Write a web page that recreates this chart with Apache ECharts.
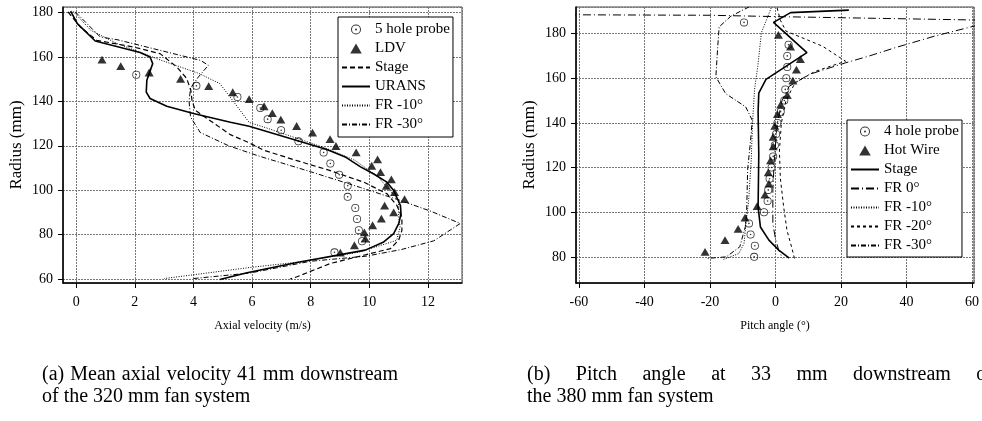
<!DOCTYPE html>
<html>
<head>
<meta charset="utf-8">
<script src="https://cdn.jsdelivr.net/npm/echarts@6/dist/echarts.min.js"></script>
<style>
html, body { margin: 0; padding: 0; background: #fff; }
#main { width: 982px; height: 421px; }
</style>
</head>
<body>
<div id="main"></div>
<script>
// (a) axial velocity, 320 mm fan  -- [velocity m/s, radius mm]
var probe5 = [[2.05,152],[4.1,147],[5.5,142],[6.28,137],[6.53,132],[6.99,127],[7.58,122],[8.44,117],[8.67,112],[8.97,107],[9.26,102],[9.26,97],[9.52,92],[9.58,87],[9.64,82],[9.75,77],[8.81,72]];
var ldv = [[0.88,158.8],[1.52,155.9],[2.49,153],[3.56,150.1],[4.52,146.9],[5.34,144.1],[5.9,141],[6.41,137.8],[6.69,134.7],[6.98,131.8],[7.52,128.9],[8.06,125.9],[8.66,123],[8.86,119.9],[9.55,117],[10.28,113.9],[10.08,111],[10.38,108.1],[10.75,104.9],[10.58,101.9],[10.86,99.1],[11.2,96],[10.52,93],[10.83,90],[10.41,87.2],[10.11,84.2],[9.83,81],[9.86,78.2],[9.49,75.2],[9.01,71.9]];
var stageA = [[-0.28,180.3],[0.14,173.5],[0.7,167.5],[1.95,164.5],[2.86,161.5],[3.43,155.5],[3.77,150.3],[3.91,145],[3.95,140.5],[4.06,136],[4.46,132.3],[5.26,125],[5.87,121.5],[6.4,118],[7.53,113.3],[8.67,108.8],[9.81,103.6],[10.6,98.4],[10.94,93.1],[11.11,87.9],[11.11,81.9],[11.0,77.5],[10.72,73.7],[9.81,70.7],[8.67,67],[7.53,61],[7.3,60]];
var urans = [[-0.19,180.6],[0.04,175],[0.65,167.2],[2.18,162],[2.52,160],[2.61,157],[2.41,149.5],[2.39,144.2],[2.52,141.3],[3.09,137.8],[4.0,134.5],[5.26,130.6],[5.9,128.8],[7.53,122.4],[8.55,118.3],[9.2,114.8],[9.7,110.5],[10.15,107.3],[10.6,103.6],[10.83,99.9],[11.06,93.1],[11.08,89.4],[11.0,84.9],[10.83,80.4],[10.49,76.7],[9.86,73],[7.53,67.4],[5.83,62.8],[4.9,59.8]];
var fr10A = [[-0.1,180.5],[0.5,172],[1.4,166],[2.9,158.5],[4.2,152.5],[4.9,148],[5.36,140],[5.9,130.5],[6.5,128],[7.5,123.5],[8.5,119],[9.5,113.5],[10.3,106],[10.6,101.3],[11.0,95.4],[11.0,88],[11.05,83.4],[10.93,77.4],[9.68,72.2],[7.64,67.7],[5.93,65.2],[3,60.2]];
var fr30A = [[-0.03,180.3],[0.82,169],[1.39,167.8],[4.23,158.5],[4.51,156.3],[4.17,151],[3.9,146],[3.85,140],[3.9,133],[4.23,126],[5.2,120],[6.2,115.5],[8.0,108.3],[9.7,101.2],[11.1,95.2],[12.1,90.5],[13.1,85],[12.2,77.2],[11.1,73.3],[9.9,70.3],[8,68],[5.93,62.7],[4,60.2]];

// (b) pitch angle, 380 mm fan -- [angle deg, radius mm]
var probe4 = [[-9.6,185],[4.0,175],[3.6,170],[3.6,165],[3.3,160],[3.0,155],[2.7,150],[1.6,145],[0.6,140],[0.2,135],[-0.2,130],[-0.7,125],[-1.2,120],[-1.8,115],[-2.2,110],[-2.4,105],[-3.5,100],[-8.1,95],[-7.6,90],[-6.3,85],[-6.5,80]];
var hotWire = [[0.9,179.4],[4.6,174.2],[7.6,168.6],[6.4,163.9],[5.3,158.9],[3.6,152.5],[1.6,148.2],[0.6,143.9],[-0.2,138.7],[-0.7,133.8],[-0.7,129.5],[-1.5,123.2],[-2.2,117.8],[-2.0,112.8],[-3.2,107.9],[-5.6,102.7],[-9.3,97.6],[-11.4,92.5],[-15.4,87.5],[-21.5,82.2]];
var stageB = [[22.4,190.5],[4.6,189.4],[-0.6,185],[9.6,171.5],[-2.9,159.5],[-5.1,153.3],[-5.3,145],[-5.1,126],[-5.3,102.4],[-4.6,93.4],[-2.0,87.5],[1.0,83],[4.2,79.4]];
var fr0B = [[-100,188.6],[-20,188.2],[0,187.6],[20,187.1],[60,186.1],[100,185.2],[60.8,183.4],[48.7,178.9],[36.6,173.7],[28.5,169.9],[21.4,166.9],[10.3,161.7],[4.2,156.4],[2.0,150],[0.6,140],[-0.3,125],[-0.8,110],[-0.8,95],[0,88],[1.0,83],[2.2,79.3]];
var fr10B = [[-1.3,191.5],[-4.3,180.4],[-5.4,165.4],[-6.4,154.9],[-7.0,140],[-7.4,123.5],[-8.2,105],[-9.0,95],[-9.6,86],[-11.2,81.5],[-16,78.8]];
var fr20B = [[0.5,191.5],[1.5,186],[3.2,181.1],[14.3,174.4],[21.4,167.6],[12,163],[6,158],[3.2,150],[1.8,140],[1.2,127.4],[1.5,115],[2.5,102.4],[3.5,92],[5.0,84],[5.8,79.3]];
var fr30B = [[-8,192],[-13.6,187.8],[-17.2,183],[-17.7,172.5],[-18.2,160.6],[-15.2,153.1],[-9.1,147.2],[-7.1,141.2],[-7.6,132.2],[-8.5,119],[-8.8,100],[-9.2,93.5],[-10.9,84.5],[-15,80],[-21,79.3]];

var FONT = 'Liberation Serif';
var CAP_FONT = '20px "Liberation Serif"';
var ringDot = 'path://M0,-5A5,5 0 1,1 0,5A5,5 0 1,1 0,-5Z M0,-4A4,4 0 1,0 0,4A4,4 0 1,0 0,-4Z M0,-1A1,1 0 1,1 0,1A1,1 0 1,1 0,-1Z';
var tri = 'path://M0,10L5.77,0L11.55,10Z';

function xAxisOf(idx, min, max, step, name) {
    return {
        type: 'value', gridIndex: idx, min: min, max: max,
        minInterval: step, maxInterval: step,
        name: name, nameLocation: 'middle', nameGap: 37,
        nameTextStyle: { fontFamily: FONT, fontSize: 12, color: '#000' },
        axisLine: { show: true, onZero: false, lineStyle: { color: '#000', width: 1.5 } },
        axisTick: { show: true, length: 5, lineStyle: { color: '#000' } },
        axisLabel: { fontFamily: FONT, fontSize: 14, color: '#000', margin: 12, showMinLabel: false, showMaxLabel: false },
        splitLine: { show: true, lineStyle: { color: '#777', type: [2, 1], width: 1 } }
    };
}
function yAxisOf(idx, min, max, step) {
    return {
        type: 'value', gridIndex: idx, min: min, max: max,
        minInterval: step, maxInterval: step,
        name: 'Radius (mm)', nameLocation: 'middle', nameGap: 38,
        nameTextStyle: { fontFamily: FONT, fontSize: 17, color: '#000' },
        axisLine: { show: true, onZero: false, lineStyle: { color: '#000', width: 1.5 } },
        axisTick: { show: true, length: 5, lineStyle: { color: '#000' } },
        axisLabel: { fontFamily: FONT, fontSize: 14, color: '#000', margin: 10, showMinLabel: false, showMaxLabel: false },
        splitLine: { show: true, lineStyle: { color: '#777', type: [2, 1], width: 1 } }
    };
}
function lineS(name, data, idx, type, width) {
    return {
        name: name, type: 'line', data: data, xAxisIndex: idx, yAxisIndex: idx,
        symbol: 'none', clip: true, animation: false, z: 3,
        itemStyle: { color: '#000' },
        lineStyle: { color: '#000', width: width || 1, type: type }
    };
}
function dotS(name, data, idx, symbol, size) {
    return {
        name: name, type: 'scatter', data: data, xAxisIndex: idx, yAxisIndex: idx,
        symbol: symbol, symbolSize: size, symbolKeepAspect: true, animation: false, z: 4,
        itemStyle: { color: '#000' }
    };
}
// legend entries: marks keep their symbol, lines show only the stroke
function legItems(marks, lines) {
    var out = [];
    marks.forEach(function (m) { out.push({ name: m[0], icon: m[1] }); });
    lines.forEach(function (n) { out.push({ name: n, itemStyle: { opacity: 0 } }); });
    return out;
}

// caption lines are justified like the LaTeX subcaption
var ctx = document.createElement('canvas').getContext('2d');
ctx.font = CAP_FONT;
function justified(text, x0, x1, y) {
    var words = text.split(' ');
    var total = 0;
    words.forEach(function (w) { total += ctx.measureText(w).width; });
    var gap = (x1 - x0 - total) / (words.length - 1);
    var x = x0, out = [];
    words.forEach(function (w) {
        out.push({ type: 'text', x: x, y: y, silent: true, style: { text: w, font: CAP_FONT, fill: '#000', textVerticalAlign: 'middle' } });
        x += ctx.measureText(w).width + gap;
    });
    return out;
}
function plain(text, x0, y) {
    return { type: 'text', x: x0, y: y, silent: true, style: { text: text, font: CAP_FONT, fill: '#000', textVerticalAlign: 'middle' } };
}
var captions = [].concat(
    justified('(a) Mean axial velocity 41 mm downstream', 42, 398, 375),
    [plain('of the 320 mm fan system', 42, 397)],
    justified('(b) Pitch angle at 33 mm downstream of', 527, 993, 375),
    [plain('the 380 mm fan system', 527, 397)]
);

var legendText = { fontFamily: FONT, fontSize: 15, color: '#000' };

var myChart = echarts.init(document.getElementById('main'));
var option = {
    backgroundColor: '#fff',
    animation: false,
    grid: [
        { left: 63, top: 7, right: 520, bottom: 138, show: true, borderColor: '#444', borderWidth: 1 },
        { left: 576, top: 7, right: 6, bottom: 138, show: true, borderColor: '#444', borderWidth: 1 }
    ],
    xAxis: [
        xAxisOf(0, -0.45, 13.16, 2, 'Axial velocity (m/s)'),
        xAxisOf(1, -60.9, 60.6, 20, 'Pitch angle (°)')
    ],
    yAxis: [
        yAxisOf(0, 58.2, 182.5, 20),
        yAxisOf(1, 68.3, 191.9, 20)
    ],
    legend: [
        {
            data: legItems([['5 hole probe', ringDot], ['LDV', tri]], ['Stage', 'URANS', 'FR -10°', 'FR -30°']),
            orient: 'vertical', left: 338, top: 17, itemWidth: 28, itemHeight: 10, itemGap: 4,
            backgroundColor: '#fff', borderColor: '#000', borderWidth: 1, borderRadius: 0,
            padding: [5, 3, 5, 3], textStyle: legendText, selectedMode: false
        },
        {
            data: legItems([['4 hole probe', ringDot], ['Hot Wire', tri]], ['Stage ', 'FR 0°', 'FR -10° ', 'FR -20°', 'FR -30° ']),
            orient: 'vertical', left: 847, top: 120, itemWidth: 28, itemHeight: 10, itemGap: 4,
            backgroundColor: '#fff', borderColor: '#000', borderWidth: 1, borderRadius: 0,
            padding: [4, 3, 4, 3], textStyle: legendText, selectedMode: false
        }
    ],
    graphic: captions,
    series: [
        dotS('5 hole probe', probe5, 0, ringDot, 8),
        dotS('LDV', ldv, 0, tri, 9),
        lineS('Stage', stageA, 0, [5, 3], 1.2),
        lineS('URANS', urans, 0, 'solid', 1.6),
        lineS('FR -10°', fr10A, 0, [1, 1.5], 1),
        lineS('FR -30°', fr30A, 0, [5, 2, 1, 2], 1),
        dotS('4 hole probe', probe4, 1, ringDot, 8),
        dotS('Hot Wire', hotWire, 1, tri, 9),
        lineS('Stage ', stageB, 1, 'solid', 1.6),
        lineS('FR 0°', fr0B, 1, [8, 3, 1, 3], 1),
        lineS('FR -10° ', fr10B, 1, [1, 1.5], 1),
        lineS('FR -20°', fr20B, 1, [3, 3], 1),
        lineS('FR -30° ', fr30B, 1, [5, 2, 1, 2], 1)
    ]
};
myChart.setOption(option);
</script>
</body>
</html>
